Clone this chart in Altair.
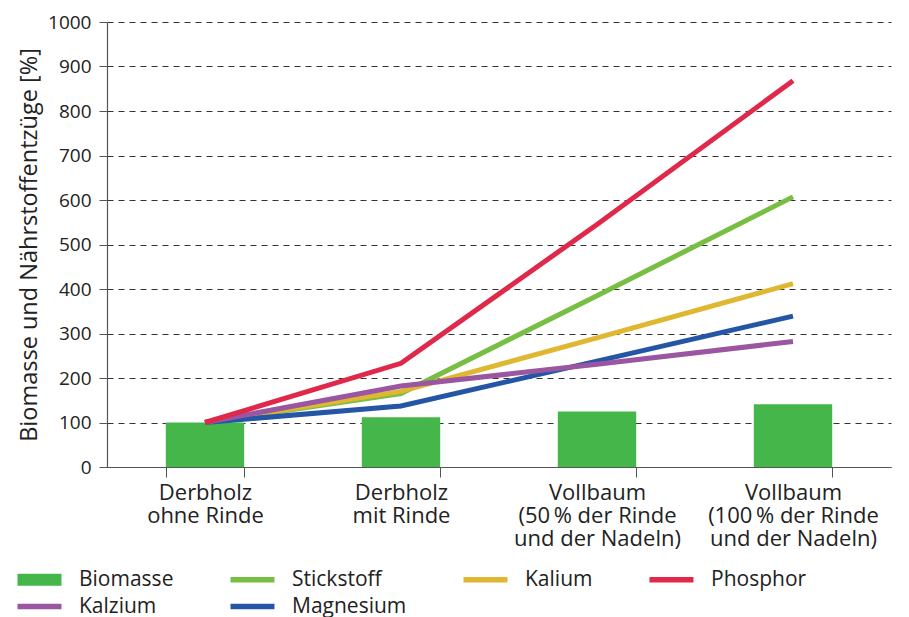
import altair as alt
import pandas as pd

categories = [
    "Derbholz|ohne Rinde",
    "Derbholz|mit Rinde",
    "Vollbaum|(50\u2009% der Rinde|und der Nadeln)",
    "Vollbaum|(100\u2009% der Rinde|und der Nadeln)",
]
biomasse = [100, 112, 125, 141]
stickstoff = [100, 165, 385, 607]
kalium = [100, 170, 290, 412]
magnesium = [100, 137, 238, 339]
kalzium = [100, 182, 231, 282]
phosphor = [100, 233, 545, 868]

legend_order = ["Biomasse", "Stickstoff", "Kalium", "Phosphor", "Kalzium", "Magnesium"]
colors = ["#45B649", "#77BE43", "#DFB731", "#E0284A", "#9A56A1", "#2456A5"]

bar_df = pd.DataFrame({"cat": categories, "value": biomasse, "series": "Biomasse"})

line_series = [
    ("Stickstoff", stickstoff),
    ("Kalium", kalium),
    ("Magnesium", magnesium),
    ("Kalzium", kalzium),
    ("Phosphor", phosphor),
]
rows = []
for name, vals in line_series:
    for c, v in zip(categories, vals):
        rows.append({"cat": c, "value": v, "series": name})
line_df = pd.DataFrame(rows)

FONT = "Open Sans"
TXT = "#222222"

x_enc = alt.X(
    "cat:N",
    sort=categories,
    scale=alt.Scale(paddingInner=0.6, paddingOuter=0.3),
    axis=alt.Axis(
        title=None,
        labelAngle=0,
        labelExpr="split(datum.label, '|')",
        labelFontSize=22,
        labelLineHeight=23,
        labelPadding=5,
        labelColor=TXT,
        labelFont=FONT,
        tickBand="extent",
        tickSize=10,
        tickColor="#555555",
        domainColor="#555555",
        domainWidth=1.2,
        grid=False,
    ),
)
y_enc = alt.Y(
    "value:Q",
    scale=alt.Scale(domain=[0, 1000], nice=False),
    axis=alt.Axis(
        title="Biomasse und Nährstoffentzüge [%]",
        values=list(range(0, 1001, 100)),
        format="d",
        grid=True,
        gridDash=[6, 5],
        gridColor="#333333",
        gridWidth=1.2,
        tickSize=8,
        tickColor="#555555",
        domainColor="#555555",
        domainWidth=1.2,
        labelFontSize=19,
        labelColor=TXT,
        labelFont=FONT,
        labelPadding=8,
        titleFontSize=23.5,
        titleFontWeight="normal",
        titleColor=TXT,
        titleFont=FONT,
        titlePadding=6,
    ),
)
color_enc = alt.Color(
    "series:N",
    scale=alt.Scale(domain=legend_order, range=colors),
    legend=alt.Legend(
        title=None,
        values=legend_order,
        orient="none",
        direction="horizontal",
        legendX=-94,
        legendY=547,
        columns=4,
        columnPadding=52,
        rowPadding=5,
        padding=0,
        symbolSize=144,
        symbolStrokeWidth=0,
        symbolType={"expr": "datum.value === 'Biomasse' ? 'M-1,-1H6.33V1H-1Z' : 'M-1,-0.45H6.33V0.45H-1Z'"},
        symbolFillColor={"expr": "scale('color', datum.value)"},
        symbolOpacity=1,
        labelFontSize=21,
        labelFont=FONT,
        labelColor=TXT,
        labelOffset=45,
        labelExpr="datum.label === 'Kalium' ? 'Kalium\u2003\u2003\u2003\u2002\u2002\u2009' : datum.label",
        gridAlign="each",
    ),
)

bars = alt.Chart(bar_df).mark_bar().encode(x=x_enc, y=y_enc, color=color_enc)
lines = alt.Chart(line_df).mark_line(strokeWidth=5).encode(
    x=x_enc, y=y_enc, color=color_enc
)

chart = (
    alt.layer(bars, lines)
    .properties(width=784, height=445)
    .configure_view(stroke=None)
)

chart.save("out.html", embed_options={"renderer": "svg", "actions": False})
